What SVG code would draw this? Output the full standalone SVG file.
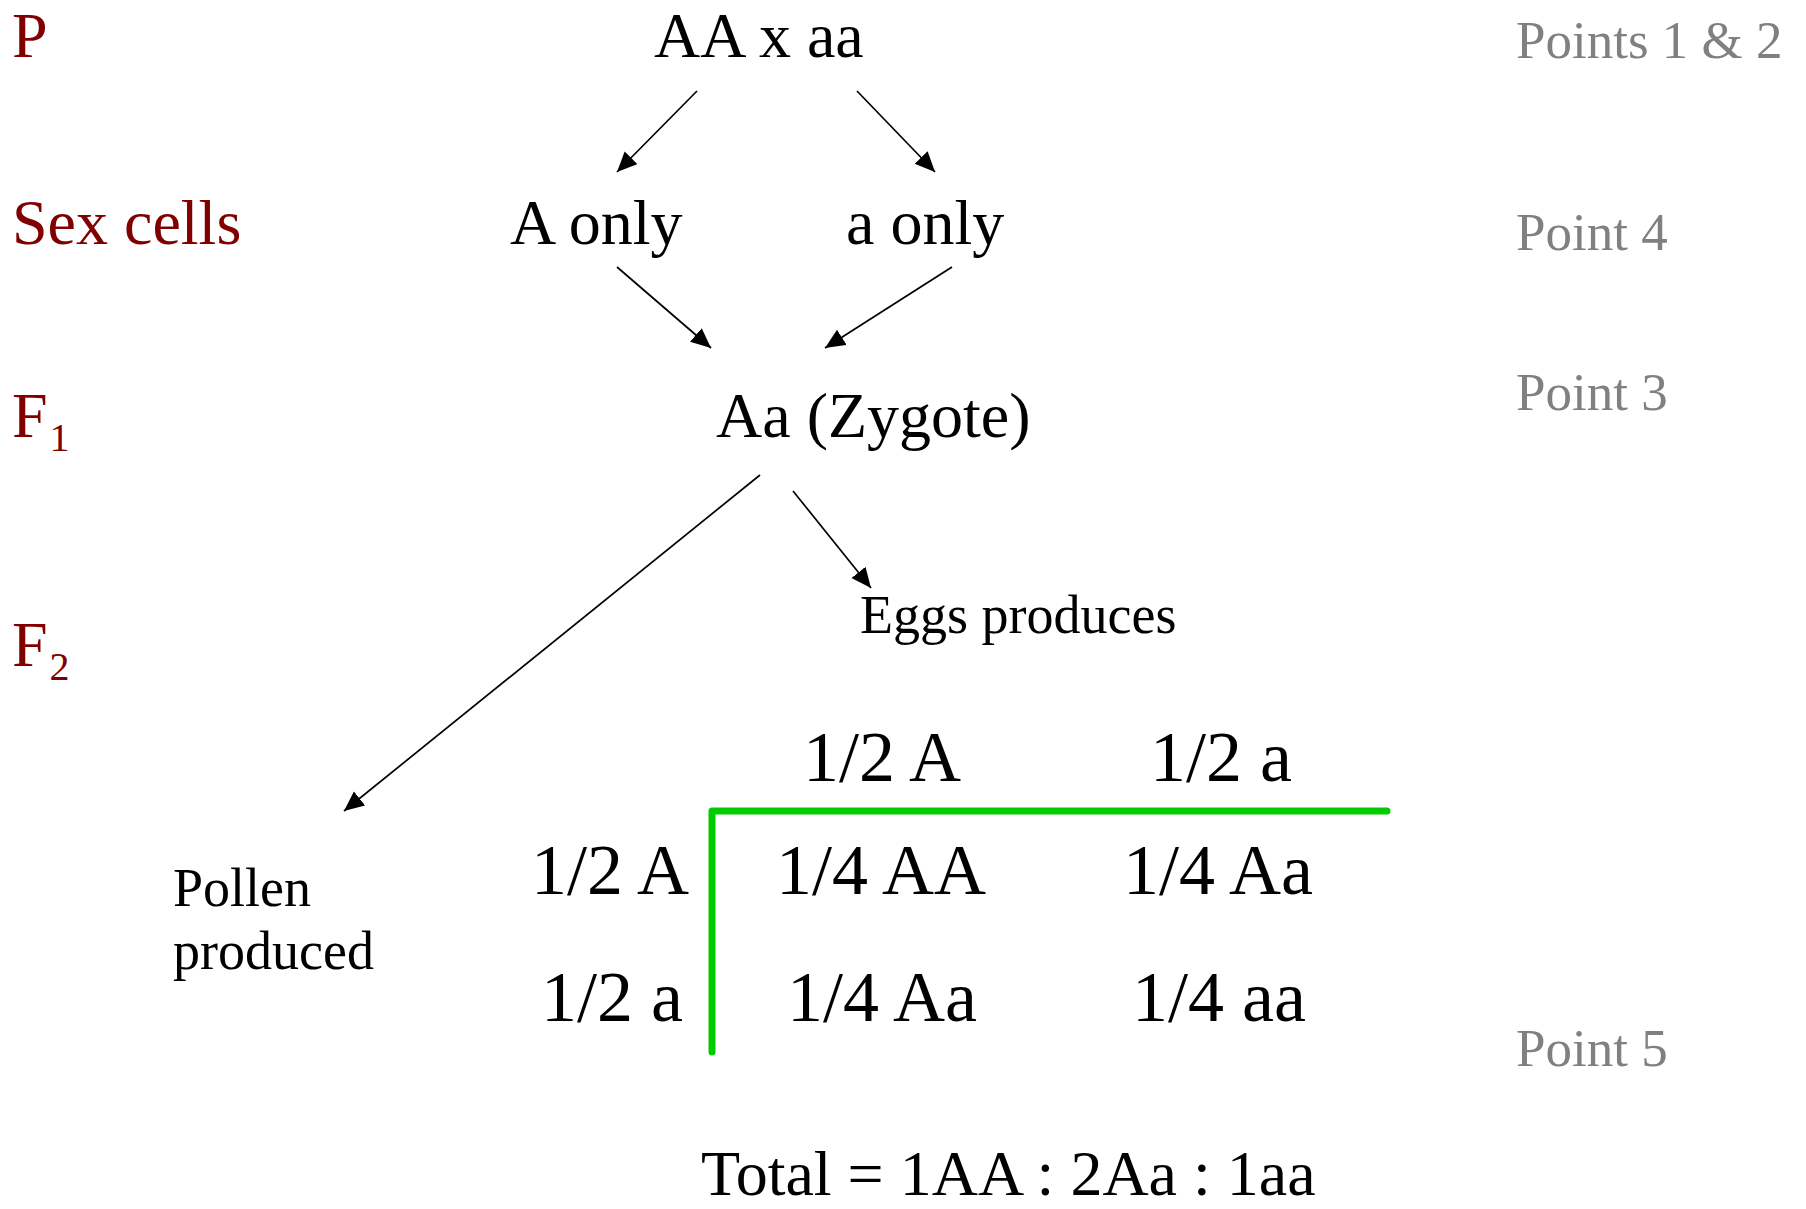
<svg xmlns="http://www.w3.org/2000/svg" width="1806" height="1209" viewBox="0 0 1806 1209">
<defs>
<marker id="ah" markerUnits="userSpaceOnUse" markerWidth="22" markerHeight="20" refX="20" refY="9" orient="auto">
<path d="M0,0 L20,9 L0,18 z" fill="#000"/>
</marker>
<style>
text{font-family:"Liberation Serif","Times New Roman",serif;}
.red{fill:#800000;font-size:64px;}
.sub{font-size:40px;}
.big{fill:#000;font-size:64px;}
.tbl{fill:#000;font-size:72px;}
.small{fill:#000;font-size:54px;}
.grey{fill:#808080;font-size:53px;}
.arr{stroke:#000;stroke-width:1.7;fill:none;marker-end:url(#ah);}
.grid{stroke:#00cc00;stroke-width:7;fill:none;stroke-linecap:round;stroke-linejoin:round;}
</style>
</defs>
<rect width="1806" height="1209" fill="#fff"/>
<g id="labels">
<text class="red" x="12" y="57">P</text>
<text class="red" x="12" y="244">Sex cells</text>
<text class="red" x="12" y="437">F<tspan class="sub" dx="2" dy="14">1</tspan></text>
<text class="red" x="12" y="666">F<tspan class="sub" dx="2" dy="14">2</tspan></text>
</g>
<g id="points">
<text class="grey" x="1516" y="58">Points 1 &amp; 2</text>
<text class="grey" x="1516" y="250">Point 4</text>
<text class="grey" x="1516" y="410">Point 3</text>
<text class="grey" x="1516" y="1066">Point 5</text>
</g>
<g id="node-parents"><text class="big" x="654" y="57">AA x aa</text></g>
<g id="node-A-only"><text class="big" x="510" y="244">A only</text></g>
<g id="node-a-only"><text class="big" x="846" y="244">a only</text></g>
<g id="node-zygote"><text class="big" x="716" y="437">Aa (Zygote)</text></g>
<g id="node-eggs"><text class="small" x="860" y="633">Eggs produces</text></g>
<g id="node-pollen"><text class="small" x="173" y="906">Pollen</text><text class="small" x="173" y="969">produced</text></g>
<g id="punnett">
<path class="grid" d="M712,1052 L712,811 L1387,811"/>
<text class="tbl" x="803" y="781">1/2 A</text>
<text class="tbl" x="1150" y="781">1/2 a</text>
<text class="tbl" x="531" y="894">1/2 A</text>
<text class="tbl" x="776" y="894">1/4 AA</text>
<text class="tbl" x="1123" y="894">1/4 Aa</text>
<text class="tbl" x="541" y="1021">1/2 a</text>
<text class="tbl" x="787" y="1021">1/4 Aa</text>
<text class="tbl" x="1132" y="1021">1/4 aa</text>
</g>
<g id="node-total"><text class="big" x="701" y="1195">Total = 1AA : 2Aa : 1aa</text></g>
<g id="connectors">
<line class="arr" x1="697" y1="91" x2="617" y2="172"/>
<line class="arr" x1="857" y1="91" x2="935" y2="172"/>
<line class="arr" x1="617" y1="267" x2="711" y2="348"/>
<line class="arr" x1="952" y1="267" x2="825" y2="348"/>
<line class="arr" x1="760" y1="475" x2="344" y2="811"/>
<line class="arr" x1="793" y1="491" x2="871" y2="588"/>
</g>
</svg>
